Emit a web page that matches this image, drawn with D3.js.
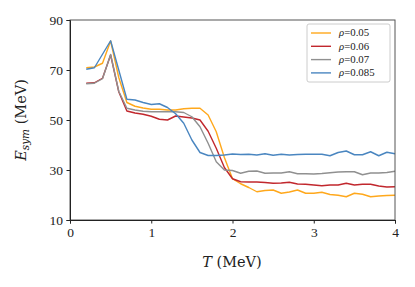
<!DOCTYPE html>
<html>
<head>
<meta charset="utf-8">
<script src="https://cdn.jsdelivr.net/npm/d3@7"></script>
<style>
  body { margin: 0; background: #fff; }
</style>
</head>
<body>
<div id="chart"></div>
<script>
// temperatures (MeV)
const temps = [0.2, 0.3, 0.4, 0.5, 0.6, 0.7, 0.8, 0.9, 1.0, 1.1, 1.2, 1.3, 1.4, 1.5, 1.6, 1.7, 1.8, 1.9, 2.0,
  2.1, 2.2, 2.3, 2.4, 2.5, 2.6, 2.7, 2.8, 2.9, 3.0, 3.1, 3.2, 3.3, 3.4, 3.5, 3.6, 3.7, 3.8, 3.9, 4.0];

const rho005 = [70.9, 71.2, 72.7, 81.6, 67.0, 57.0, 55.5, 54.8, 54.3, 54.3, 54.0, 54.0, 54.5, 54.7, 54.7, 52.0, 45.3, 35.0, 26.5,
  24.5, 23.0, 21.3, 21.8, 22.0, 20.7, 21.2, 22.0, 20.7, 20.7, 21.1, 20.2, 19.9, 19.3, 20.7, 20.3, 19.3, 19.6, 19.8, 19.9];
const rho006 = [64.7, 64.9, 66.7, 76.0, 61.3, 53.6, 52.8, 52.3, 51.5, 50.3, 50.0, 51.6, 51.2, 50.8, 50.0, 45.5, 38.7, 31.0, 26.5,
  25.3, 25.2, 25.2, 25.0, 24.7, 24.8, 25.1, 24.4, 24.3, 24.0, 23.7, 24.0, 24.0, 24.7, 24.0, 24.3, 24.3, 23.6, 23.2, 23.3];
const rho007 = [64.5, 64.7, 66.5, 76.2, 61.5, 54.7, 54.0, 53.5, 53.3, 53.3, 53.3, 53.3, 53.0, 51.3, 47.3, 40.7, 33.3, 30.0, 29.8,
  28.7, 29.5, 29.6, 28.7, 28.8, 28.8, 29.3, 28.5, 28.5, 28.4, 28.6, 28.9, 29.2, 29.3, 29.3, 28.1, 28.8, 28.8, 29.0, 29.5];
const rho0085 = [70.3, 70.9, 76.3, 81.7, 70.0, 58.3, 58.0, 57.0, 56.2, 56.5, 55.0, 52.5, 48.7, 42.0, 37.0, 35.8, 35.8, 36.0, 36.4,
  36.2, 36.3, 36.0, 36.5, 35.9, 36.3, 36.0, 36.2, 36.3, 36.3, 36.3, 35.7, 37.0, 37.6, 36.1, 36.1, 37.3, 35.7, 37.1, 36.5];

const labels = ["0.05", "0.06", "0.07", "0.085"];
const colors = ["#ffa81c", "#c1272d", "#909090", "#4a86c0"];
const seriesValues = [rho005, rho006, rho007, rho0085];

const xTicks = [0, 1, 2, 3, 4];
const yTicks = [10, 30, 50, 70, 90];

const width = 415, height = 287;
const margin = { left: 70, right: 20, top: 20, bottom: 67 };
const serif = "'Liberation Serif', serif";
const wideSerif = "'DejaVu Serif', serif";

const svg = d3.select("#chart").append("svg")
  .attr("width", width)
  .attr("height", height);

const x = d3.scaleLinear().domain([0, 4]).range([margin.left, width - margin.right]);
const y = d3.scaleLinear().domain([10, 90]).range([height - margin.bottom, margin.top]);

// series lines
const line = d3.line()
  .x((d, i) => x(temps[i]))
  .y(d => y(d));

seriesValues.forEach((vals, k) => {
  svg.append("path")
    .datum(vals)
    .attr("d", line)
    .attr("fill", "none")
    .attr("stroke", colors[k])
    .attr("stroke-width", 1.4)
    .attr("stroke-linejoin", "round");
});

// frame
svg.append("rect")
  .attr("x", x(0)).attr("y", y(90))
  .attr("width", x(4) - x(0)).attr("height", y(10) - y(90))
  .attr("fill", "none")
  .attr("stroke", "#555")
  .attr("stroke-width", 1);

// axes
const xAxis = svg.append("g")
  .attr("transform", `translate(0,${y(10)})`)
  .call(d3.axisBottom(x).tickValues(xTicks).tickFormat(d3.format("d")).tickSize(3.5).tickPadding(4));
const yAxis = svg.append("g")
  .attr("transform", `translate(${x(0)},0)`)
  .call(d3.axisLeft(y).tickValues(yTicks).tickFormat(d3.format("d")).tickSize(3.5).tickPadding(3.5));

[xAxis, yAxis].forEach(g => {
  g.select(".domain").attr("stroke", "#222");
  g.selectAll(".tick line").attr("stroke", "#222");
  g.selectAll(".tick text")
    .style("font-family", serif)
    .style("font-size", "13.5px")
    .attr("fill", "#222");
});

// axis titles
const xt = svg.append("text")
  .attr("x", 232)
  .attr("y", 267)
  .attr("text-anchor", "middle")
  .attr("fill", "#222")
  .style("font-family", wideSerif)
  .style("font-size", "14.5px");
xt.append("tspan").attr("font-style", "italic").text("T");
xt.append("tspan").text(" (MeV)");

const yt = svg.append("text")
  .attr("transform", `translate(26,${(y(10) + y(90)) / 2}) rotate(-90)`)
  .attr("text-anchor", "middle")
  .attr("fill", "#222")
  .style("font-family", wideSerif)
  .style("font-size", "14.5px");
yt.append("tspan").attr("font-style", "italic").text("E");
yt.append("tspan").attr("font-style", "italic").style("font-size", "10.5px").attr("dy", 3).text("sym");
yt.append("tspan").attr("dy", -3).text(" (MeV)");

// legend
const legend = svg.append("g");
legend.append("rect")
  .attr("x", 307).attr("y", 24)
  .attr("width", 83).attr("height", 58)
  .attr("rx", 2)
  .attr("fill", "#fff")
  .attr("stroke", "#ccc")
  .attr("stroke-width", 1);

labels.forEach((lab, k) => {
  const ly = 33 + k * 13.3;
  legend.append("line")
    .attr("x1", 311).attr("x2", 331)
    .attr("y1", ly).attr("y2", ly)
    .attr("stroke", colors[k])
    .attr("stroke-width", 1.4);
  const t = legend.append("text")
    .attr("x", 339).attr("y", ly + 3.4)
    .attr("fill", "#222")
    .style("font-family", serif)
    .style("font-size", "10.8px");
  t.append("tspan").attr("font-style", "italic").text("ρ");
  t.append("tspan").text("=" + lab);
});
</script>
</body>
</html>
